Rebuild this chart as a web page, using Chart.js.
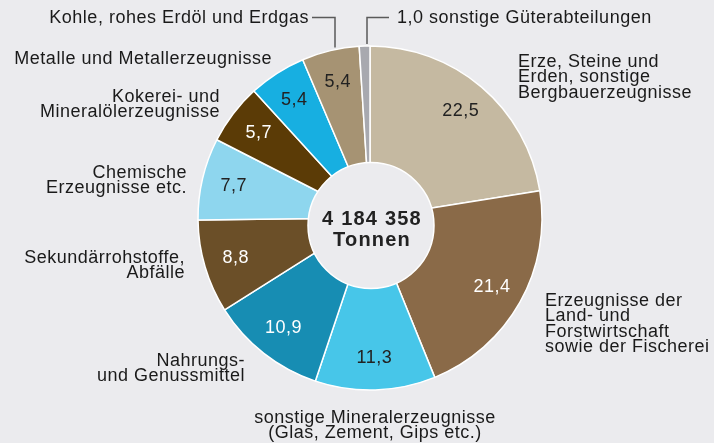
<!DOCTYPE html>
<html lang="de">
<head>
<meta charset="utf-8">
<title>Güterabteilungen</title>
<script src="https://cdn.jsdelivr.net/npm/chart.js@4.4.1/dist/chart.umd.min.js"></script>
<style>
  html, body { margin: 0; padding: 0; background: #ebebee; }
  #wrap { width: 714px; height: 443px; }
</style>
</head>
<body>
<div id="wrap"><canvas id="chart" width="714" height="443"></canvas></div>
<script>
// data (clockwise from 12 o'clock)
const categories = [
    ['Erze, Steine und', 'Erden, sonstige', 'Bergbauerzeugnisse'],
    ['Erzeugnisse der', 'Land- und', 'Forstwirtschaft', 'sowie der Fischerei'],
    ['sonstige Mineralerzeugnisse', '(Glas, Zement, Gips etc.)'],
    ['Nahrungs-', 'und Genussmittel'],
    ['Sekundärrohstoffe,', 'Abfälle'],
    ['Chemische', 'Erzeugnisse etc.'],
    ['Kokerei- und', 'Mineralölerzeugnisse'],
    ['Metalle und Metallerzeugnisse'],
    ['Kohle, rohes Erdöl und Erdgas'],
    ['sonstige Güterabteilungen']
];
const shares = [22.5, 21.4, 11.3, 10.9, 8.8, 7.7, 5.7, 5.4, 5.4, 1.0];
const sliceColors = ['#c5b9a1', '#8a6a48', '#47c6e9', '#178db3', '#6b4f28', '#8ed6ee', '#5b3b06', '#17afe1', '#a69373', '#a8a9af'];
const valueColors = ['#222', '#fff', '#222', '#fff', '#fff', '#222', '#fff', '#222', '#222', null];
const totalTonnes = '4 184 358';
const totalUnit = 'Tonnen';

const FONT = "'Liberation Sans', Arial, sans-serif";
const fmt = v => v.toFixed(1).replace('.', ',');

// where the outside labels sit (x, first-line y, alignment)
const labelLayout = [
    { x: 518, y: 62,  align: 'left' },
    { x: 545, y: 301, align: 'left' },
    { x: 375, y: 418, align: 'center' },
    { x: 245, y: 361, align: 'right' },
    { x: 185, y: 258, align: 'right' },
    { x: 187, y: 173, align: 'right' },
    { x: 220, y: 97,  align: 'right' },
    { x: 272, y: 59,  align: 'right' },
    { x: 309, y: 18,  align: 'right' },
    { x: 397, y: 18,  align: 'left' }
];

const labelsPlugin = {
    id: 'doughnutLabels',
    afterDatasetsDraw(chart) {
        const ctx = chart.ctx;
        const arcs = chart.getDatasetMeta(0).data;
        const cx = arcs[0].x, cy = arcs[0].y;
        const R = arcs[0].outerRadius;
        ctx.save();

        // inner disk
        ctx.beginPath();
        ctx.arc(cx + 1, cy + 7.5, 63, 0, Math.PI * 2);
        ctx.fillStyle = '#ebebee';
        ctx.fill();
        ctx.lineWidth = 1.5;
        ctx.strokeStyle = '#ffffff';
        ctx.stroke();

        ctx.fillStyle = '#222';
        ctx.textAlign = 'center';
        ctx.textBaseline = 'middle';
        ctx.font = `bold 20px ${FONT}`;
        ctx.letterSpacing = '1.2px';
        ctx.fillText(totalTonnes, cx + 2, cy + 1);
        ctx.fillText(totalUnit, cx + 2, cy + 22);

        // values inside slices
        ctx.font = `18px ${FONT}`;
        ctx.letterSpacing = '0.5px';
        arcs.forEach((arc, i) => {
            if (!valueColors[i]) return;
            const mid = (arc.startAngle + arc.endAngle) / 2;
            const r = 140;
            ctx.fillStyle = valueColors[i];
            ctx.fillText(fmt(shares[i]), cx + Math.cos(mid) * r, cy + Math.sin(mid) * r);
        });

        // outside labels
        ctx.fillStyle = '#1a1a1a';
        categories.forEach((lines, i) => {
            const pos = labelLayout[i];
            ctx.textAlign = pos.align;
            lines.forEach((line, j) => {
                const text = (i === shares.length - 1 && j === 0) ? fmt(shares[i]) + ' ' + line : line;
                ctx.fillText(text, pos.x, pos.y + j * 15.5);
            });
        });

        // connector lines for the two small slices at the top
        ctx.strokeStyle = '#5a5a5a';
        ctx.lineWidth = 1.5;
        const connect = (lx, hx, hy) => {
            const dx = lx - cx;
            const yEdge = cy - Math.sqrt(R * R - dx * dx) - 2;
            ctx.beginPath();
            ctx.moveTo(lx, yEdge);
            ctx.lineTo(lx, hy);
            ctx.lineTo(hx, hy);
            ctx.stroke();
        };
        connect(335, 312, 17.5);
        connect(367, 389, 17.5);

        ctx.restore();
    }
};

new Chart(document.getElementById('chart'), {
    type: 'doughnut',
    data: {
        labels: categories.map(c => c.join(' ')),
        datasets: [{
            data: shares,
            backgroundColor: sliceColors,
            borderColor: '#ffffff',
            borderWidth: 1.5
        }]
    },
    options: {
        responsive: false,
        animation: false,
        radius: 172,
        cutout: '30%',
        layout: { padding: { left: 26, right: 0, top: 0, bottom: 7 } },
        plugins: {
            legend: { display: false },
            tooltip: { enabled: false }
        }
    },
    plugins: [labelsPlugin]
});
</script>
</body>
</html>
